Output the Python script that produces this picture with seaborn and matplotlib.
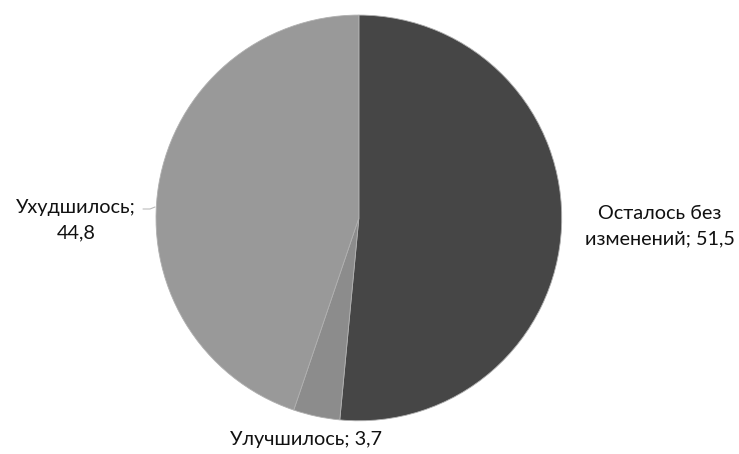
import matplotlib
matplotlib.use("Agg")
import matplotlib.pyplot as plt
import seaborn as sns

categories = ["Осталось без изменений", "Улучшилось", "Ухудшилось"]
values = [51.5, 3.7, 44.8]
label_texts = ["Осталось без\nизменений; 51,5", "Улучшилось; 3,7", "Ухудшилось;\n44,8"]
colors = ["#464646", "#8c8c8c", "#999999"]

sns.set_theme(style="white")
plt.rcParams['font.family'] = ['Lato', 'DejaVu Sans']

fig = plt.figure(figsize=(7.39, 4.54), dpi=100)
ax = fig.add_axes([0.2111, 0.073, 0.549, 0.894])
wedges, _ = ax.pie(values, colors=colors, startangle=90, counterclock=False,
                   wedgeprops=dict(edgecolor="#b0b0b0", linewidth=0.6))
ax.set_aspect('equal')
ax.set_xlim(-1, 1)
ax.set_ylim(-1, 1)

fs = 14.3
fig.text(660/739, 1-226/454, label_texts[0], ha='center', va='center', fontsize=fs, color='#111111', linespacing=1.6)
fig.text(306/739, 1-440/454, label_texts[1], ha='center', va='center', fontsize=fs, color='#111111')
fig.text(76/739, 1-220/454, label_texts[2], ha='center', va='center', fontsize=fs, color='#111111', linespacing=1.6)
fig.add_artist(plt.Line2D([143/739, 150/739, 155/739], [1-209/454, 1-209/454, 1-207/454], color='#bbbbbb', lw=0.8))

fig.savefig("out.png", dpi=100)
